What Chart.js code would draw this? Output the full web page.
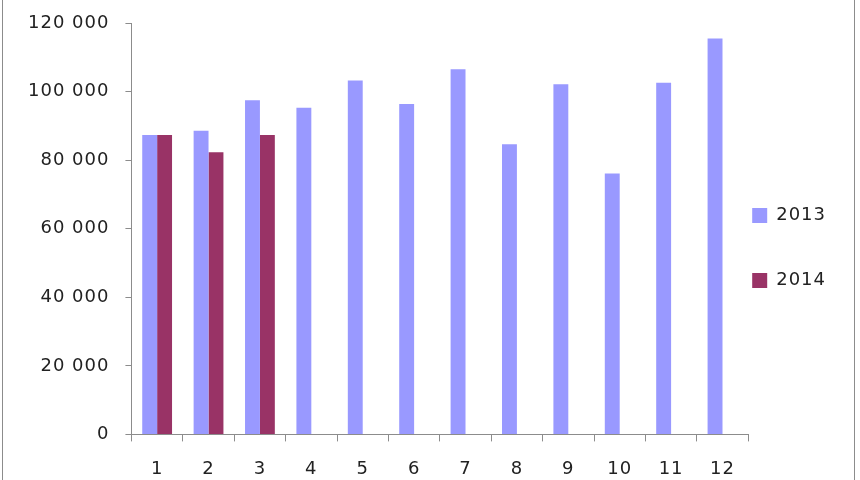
<!DOCTYPE html>
<html>
<head>
<meta charset="utf-8">
<script src="https://cdn.jsdelivr.net/npm/chart.js@4"></script>
<style>
  html, body { margin: 0; padding: 0; background: #fff; }
  #wrap { position: relative; width: 860px; height: 480px; overflow: hidden; }
  #frame { position: absolute; left: 2px; top: -10px; width: 853px; height: 500px; border: 1px solid #8c8c8c; box-sizing: border-box; }
  #chart { position: absolute; left: 0; top: 0; }
</style>
</head>
<body>
<div id="wrap">
  <div id="frame"></div>
  <canvas id="chart" width="860" height="480"></canvas>
</div>
<script>
// 데이터
var months = ['1', '2', '3', '4', '5', '6', '7', '8', '9', '10', '11', '12'];
var values2013 = [87300, 88600, 97500, 95300, 103200, 96400, 106500, 84600, 102100, 76100, 102600, 115500];
var values2014 = [87300, 82300, 87300, null, null, null, null, null, null, null, null, null];
var seriesNames = ['2013', '2014'];

var axisColor = '#8c8c8c';
var textColor = '#222222';
var fontFamily = 'DejaVu Sans';
var legendPadding = 47;

// 120 000 형식
function formatThousands(v) {
	return String(v).replace(/\B(?=(\d{3})+(?!\d))/g, ' ');
}

// 글자 간격을 조금 넓혀서 원본의 넓은 숫자에 맞춤
var letterSpacingPlugin = {
	id: 'letterSpacing',
	beforeLayout(chart) {
		chart.ctx.letterSpacing = '1px';
	},
	beforeDraw(chart) {
		chart.ctx.letterSpacing = '1px';
	}
};

// 범례를 차트 영역 바로 옆으로 당김
var legendShiftPlugin = {
	id: 'legendShift',
	afterLayout(chart) {
		var lg = chart.legend;
		var w = lg.right - lg.left;
		lg.left = chart.chartArea.right + 4 - legendPadding;
		lg.right = lg.left + w;
		lg.top -= 12;
		lg.bottom -= 12;
	}
};

var myChart = new Chart(document.getElementById('chart'), {
	type: 'bar',
	data: {
		labels: months,
		datasets: [{
			label: seriesNames[0],
			data: values2013,
			backgroundColor: '#9999ff',
			borderWidth: 0
		}, {
			label: seriesNames[1],
			data: values2014,
			backgroundColor: '#993366',
			borderWidth: 0
		}]
	},
	options: {
		responsive: false,
		animation: false,
		devicePixelRatio: 1,
		categoryPercentage: 0.58,
		barPercentage: 1,
		layout: {
			padding: { top: 23, left: 12, right: -19, bottom: -17 }
		},
		plugins: {
			tooltip: { enabled: false },
			legend: {
				position: 'right',
				align: 'center',
				labels: {
					boxWidth: 15,
					boxHeight: 15,
					padding: legendPadding,
					color: textColor,
					font: { size: 18, family: fontFamily }
				}
			}
		},
		scales: {
			x: {
				offset: true,
				grid: {
					offset: true,
					drawOnChartArea: false,
					tickLength: 7,
					color: axisColor
				},
				border: { color: axisColor, width: 1 },
				ticks: {
					padding: 17,
					color: textColor,
					font: { size: 18, family: fontFamily }
				}
			},
			y: {
				min: 0,
				max: 120000,
				afterFit: function (scale) {
					// 눈금 여백 때문에 위쪽이 너무 내려오지 않도록
					scale.paddingTop = 10;
				},
				ticks: {
					stepSize: 20000,
					padding: 16,
					color: textColor,
					font: { size: 18, family: fontFamily },
					callback: function (v) { return formatThousands(v); }
				},
				grid: {
					drawOnChartArea: false,
					tickLength: 6,
					color: axisColor
				},
				border: { color: axisColor, width: 1 }
			}
		}
	},
	plugins: [letterSpacingPlugin, legendShiftPlugin]
});
</script>
</body>
</html>
